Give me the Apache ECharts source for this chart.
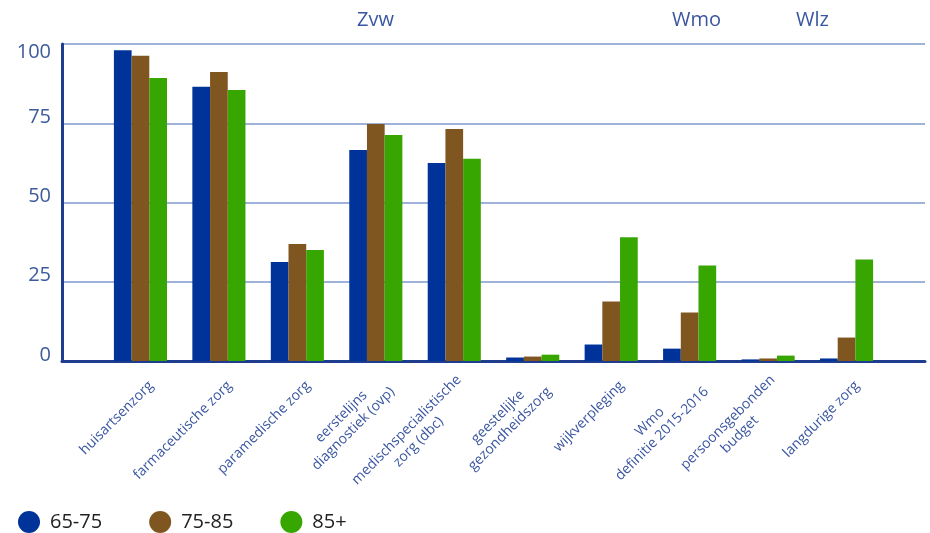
<!DOCTYPE html>
<html>
<head>
<meta charset="utf-8">
<script src="https://cdn.jsdelivr.net/npm/echarts@6/dist/echarts.min.js"></script>
<style>html,body{margin:0;padding:0;background:#fff;overflow:hidden}#c{width:930px;height:533px}</style>
</head>
<body>
<div id="c"></div>
<script>
const categories = ['', 'huisartsenzorg', 'farmaceutische zorg', 'paramedische zorg', 'eerstelijns\ndiagnostiek (ovp)', 'medischspecialistische\nzorg (dbc)', 'geestelijke\ngezondheidszorg', 'wijkverpleging', 'Wmo\ndefinitie 2015-2016', 'persoonsgebonden\nbudget', 'langdurige zorg', ''];
const seriesNames = ['65-75', '75-85', '85+'];
const v65_75 = [null, 98, 86.5, 31.2, 66.6, 62.5, 1.1, 5.2, 3.9, 0.5, 0.8, null];
const v75_85 = [null, 96.3, 91.2, 36.9, 74.8, 73.2, 1.4, 18.8, 15.3, 0.8, 7.4, null];
const v85plus = [null, 89.3, 85.5, 35.0, 71.3, 63.8, 2.0, 39.0, 30.1, 1.7, 32.0, null];
const yTicks = [0, 25, 50, 75, 100];
const groupLabels = ['Zvw', 'Wmo', 'Wlz'];

const colors = ['#003399', '#7f561f', '#38a600'];
const labelColor = '#3a56a0';
const tickColor = '#3d5a9c';
const font = 'Open Sans';

const chart = echarts.init(document.getElementById('c'));
const mk = (name, data, i) => ({
  name, type: 'bar', data, barWidth: 17.7, barGap: '0%',
  itemStyle: { color: colors[i] }, emphasis: { disabled: true }
});
chart.setOption({
  animation: false,
  color: colors,
  textStyle: { fontFamily: font },
  grid: { left: 62, right: 5, top: 44, bottom: 172, containLabel: false, outerBoundsMode: 'none' },
  legend: {
    left: 18, top: 511, padding: 0, icon: 'circle', itemWidth: 22, itemHeight: 22, itemGap: 47,
    textStyle: { fontSize: 20, color: '#222', fontFamily: font, padding: [0, 0, 0, 5] },
    data: seriesNames
  },
  xAxis: {
    type: 'category', data: categories, boundaryGap: false,
    axisLine: { lineStyle: { color: '#1e3d8f', width: 3 } },
    axisTick: { show: false },
    axisLabel: {
      interval: 0, rotate: 45, margin: 12, padding: [30, 0, 0, 0],
      formatter: v => v.split('\n').map(l => '{c|' + l + '}').join('\n'),
      rich: { c: { align: 'center', fontSize: 14, lineHeight: 17, color: labelColor, fontFamily: font } }
    }
  },
  yAxis: {
    type: 'value', min: 0, max: 100, interval: 25,
    axisLine: { show: true, lineStyle: { color: '#1e3d8f', width: 3 } },
    axisTick: { show: false },
    axisLabel: { margin: 11,
      formatter: v => yTicks.includes(v) ? (v === 100 ? '{t|' + v + '}' : '{n|' + v + '}') : '',
      rich: {
        t: { fontSize: 20, color: tickColor, fontFamily: font, padding: [16, 0, 0, 0] },
        n: { fontSize: 20, color: tickColor, fontFamily: font, padding: [0, 0, 12, 0] }
      }
    },
    splitLine: { lineStyle: { color: '#9fb2da', width: 2 } }
  },
  graphic: [
    { type: 'text', left: 357, top: 10, style: { text: groupLabels[0], fontSize: 20, fill: labelColor, fontFamily: font } },
    { type: 'text', left: 672, top: 10, style: { text: groupLabels[1], fontSize: 20, fill: labelColor, fontFamily: font } },
    { type: 'text', left: 796, top: 10, style: { text: groupLabels[2], fontSize: 20, fill: labelColor, fontFamily: font } }
  ],
  series: [mk(seriesNames[0], v65_75, 0), mk(seriesNames[1], v75_85, 1), mk(seriesNames[2], v85plus, 2)]
});
</script>
</body>
</html>
